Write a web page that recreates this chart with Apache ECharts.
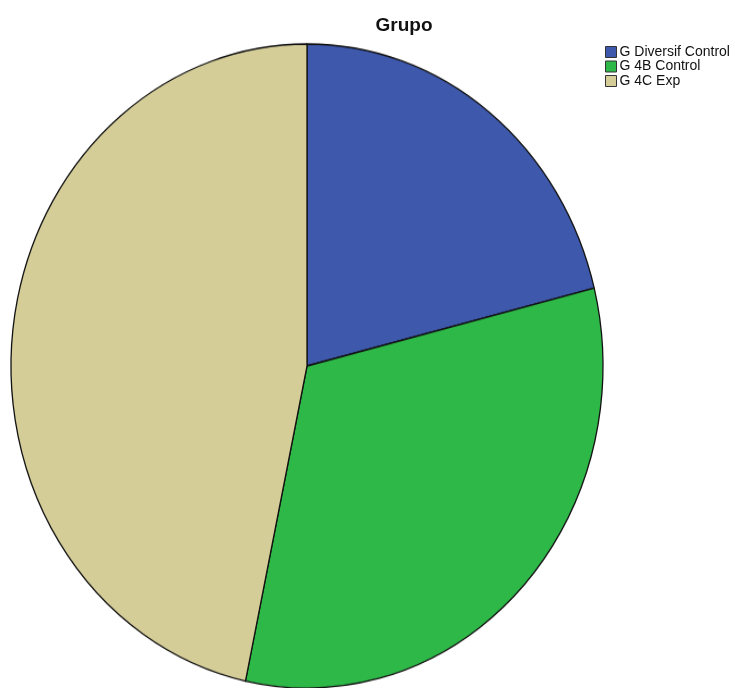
<!DOCTYPE html>
<html>
<head>
<meta charset="utf-8">
<script src="https://cdn.jsdelivr.net/npm/echarts@6/dist/echarts.min.js"></script>
<style>
html,body{margin:0;padding:0;background:#fff;overflow:hidden;}
#wrap{position:relative;width:735px;height:688px;overflow:hidden;}
#pie{position:absolute;left:0;top:0;width:735px;height:688px;transform-origin:307px 366px;transform:scaleY(1.088);}
#over{position:absolute;left:0;top:0;width:735px;height:688px;pointer-events:none;}
</style>
</head>
<body>
<div id="wrap"><div id="pie"></div><div id="over"></div></div>
<script>
const categories = ['G Diversif Control', 'G 4B Control', 'G 4C Exp'];
const values = [19, 29, 42];
const colors = ['#3e58ac', '#2eb848', '#d5cd98'];
const titleText = 'Grupo';

const data = categories.map((c, i) => ({ name: c, value: values[i], itemStyle: { color: colors[i] } }));

const pie = echarts.init(document.getElementById('pie'), null, { renderer: 'canvas' });
pie.setOption({
  animation: false,
  series: [{
    type: 'pie',
    center: [307, 366],
    radius: 296,
    startAngle: 90,
    clockwise: true,
    label: { show: false },
    labelLine: { show: false },
    itemStyle: { borderColor: '#111', borderWidth: 1.3 },
    emphasis: { disabled: true },
    data: data
  }]
});

const over = echarts.init(document.getElementById('over'), null, { renderer: 'canvas' });
over.setOption({
  animation: false,
  title: {
    text: titleText, left: 399, top: 11, textAlign: 'center',
    textStyle: { fontFamily: 'Liberation Sans, Arial', fontWeight: 'bold', fontSize: 19, color: '#111' }
  },
  legend: {
    orient: 'vertical', left: 600, top: 40,
    icon: 'rect', itemWidth: 11, itemHeight: 11, itemGap: 0.5,
    selectedMode: false,
    itemStyle: { borderColor: '#333', borderWidth: 1 },
    textStyle: { fontFamily: 'Liberation Sans, Arial', fontSize: 14, lineHeight: 13, color: '#111', padding: [0, 0, 0, -2] },
    data: categories
  },
  series: [{
    type: 'pie', radius: 0, center: [-100, -100], silent: true,
    label: { show: false }, labelLine: { show: false },
    data: data
  }]
});
</script>
</body>
</html>
